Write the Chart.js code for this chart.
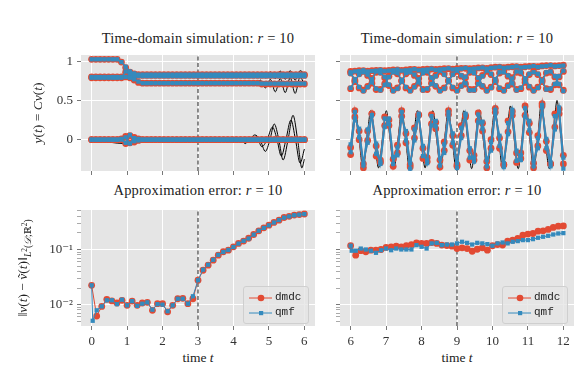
<!DOCTYPE html>
<html>
<head>
<meta charset="utf-8">
<script src="https://cdn.jsdelivr.net/npm/chart.js@4.4.1/dist/chart.umd.min.js"></script>
<style>
  body { margin: 0; background: #fff; }
  #fig { position: relative; width: 587px; height: 370px; overflow: hidden;
         font-family: "Liberation Serif", "DejaVu Serif", serif; color: #222; }
  canvas { position: absolute; }
  .txt { position: absolute; transform: translate(-50%, -50%); white-space: nowrap; line-height: 1; }
  .title { font-size: 14.5px; letter-spacing: 0.2px; }
  .lab { font-size: 13.5px; }
  .rot { transform: translate(-50%, -50%) rotate(-90deg); }
  .legend { position: absolute; width: 64px; height: 36px; border: 1px solid #cfcfcf; border-radius: 3px;
            background: rgba(229,229,229,0.8); font-family: "Liberation Mono", "DejaVu Sans Mono", monospace;
            font-size: 11px; color: #222; }
  .legend span { position: absolute; left: 31px; line-height: 1; }
  .legend svg { position: absolute; left: 0; top: 0; }
  sub { font-size: 9.5px; }
  sup { font-size: 7.5px; }
</style>
</head>
<body>
<div id="fig">
  <canvas id="tl" width="280" height="130" style="left:40px;top:50px"></canvas>
  <canvas id="tr" width="259" height="130" style="left:320px;top:50px"></canvas>
  <canvas id="bl" width="280" height="145" style="left:40px;top:205px"></canvas>
  <canvas id="br" width="259" height="145" style="left:320px;top:205px"></canvas>

  <div class="txt title" style="left:198px;top:38px">Time-domain simulation: <i>r</i> = 10</div>
  <div class="txt title" style="left:457px;top:38px">Time-domain simulation: <i>r</i> = 10</div>
  <div class="txt title" style="left:198px;top:190px">Approximation error: <i>r</i> = 10</div>
  <div class="txt title" style="left:457px;top:190px">Approximation error: <i>r</i> = 10</div>
  <div class="txt lab" style="left:198px;top:358px">time <i>t</i></div>
  <div class="txt lab" style="left:457px;top:358px">time <i>t</i></div>
  <div class="txt lab rot" style="left:38px;top:113px"><i>y</i>(<i>t</i>) = <i>Cv</i>(<i>t</i>)</div>
  <div class="txt lab rot" style="left:25px;top:268px">‖<i>v</i>(<i>t</i>) − <i>ṽ</i>(<i>t</i>)‖<sub><i>L</i><sup>2</sup>(<i>𝒟</i>;ℝ<sup>2</sup>)</sub></div>

  <div class="legend" style="left:243px;top:286px">
    <svg width="30" height="36">
      <line x1="5" y1="11" x2="28" y2="11" stroke="#E24A33" stroke-width="1"/>
      <circle cx="17" cy="11" r="3.3" fill="#E24A33"/>
      <line x1="5" y1="26" x2="28" y2="26" stroke="#348ABD" stroke-width="1"/>
      <rect x="15" y="24" width="4.2" height="4.2" fill="#348ABD"/>
    </svg>
    <span style="top:5px">dmdc</span>
    <span style="top:20px">qmf</span>
  </div>
  <div class="legend" style="left:502px;top:286px">
    <svg width="30" height="36">
      <line x1="5" y1="11" x2="28" y2="11" stroke="#E24A33" stroke-width="1"/>
      <circle cx="17" cy="11" r="3.3" fill="#E24A33"/>
      <line x1="5" y1="26" x2="28" y2="26" stroke="#348ABD" stroke-width="1"/>
      <rect x="15" y="24" width="4.2" height="4.2" fill="#348ABD"/>
    </svg>
    <span style="top:5px">dmdc</span>
    <span style="top:20px">qmf</span>
  </div>
</div>

<script>
// ---- time grids (evenly spaced sample instants) ----
function grid(start, step, n) {
  return Array.from({ length: n }, (_, i) => +(start + i * step).toFixed(4));
}
const simTimeLeft = grid(0, 0.12, 51);
const simTimeRight = grid(6, 0.12, 51);
const errTimeLeft = grid(0, 1 / 7, 43);
const errTimeRight = grid(6, 1 / 7, 43);
const qmfErrTimeLeft = [0, 0.03].concat(errTimeLeft.slice(1));
const qmfErrTimeRight = [6, 6.03].concat(errTimeRight.slice(1));
const quarterTimeRight = grid(6.0206, 0.10943, 55);

const xTicksLeft = [0, 1, 2, 3, 4, 5, 6];
const xTicksRight = [6, 7, 8, 9, 10, 11, 12];
const yTicksSim = [0, 0.5, 1];
const yTicksErr = [0.005, 0.006, 0.007, 0.008, 0.009, 0.01, 0.02, 0.03, 0.04, 0.05, 0.06, 0.07, 0.08, 0.09,
                   0.1, 0.2, 0.3, 0.4, 0.5];
const yTickLabelsErr = { 0.01: '10⁻²', 0.1: '10⁻¹' };
const trainEndLeft = 3;
const trainEndRight = 9;

// ---- top-left: outputs, t in [0, 6] ----
const dmdcOutA = [1.025, 1.025, 1.025, 1.025, 1.025, 1.025, 1.025, 0.99, 0.92, 0.86, 0.84,
  0.83, 0.83, 0.83, 0.83, 0.83, 0.83, 0.83, 0.83, 0.83, 0.83,
  0.83, 0.83, 0.83, 0.83, 0.83, 0.83, 0.83, 0.83, 0.83, 0.83,
  0.83, 0.83, 0.83, 0.83, 0.83, 0.83, 0.83, 0.83, 0.83, 0.83,
  0.83, 0.83, 0.83, 0.83, 0.83, 0.83, 0.83, 0.83, 0.83, 0.83];
const qmfOutA = [1.025, 1.025, 1.025, 1.025, 1.025, 1.025, 1.025, 0.99, 0.93, 0.87, 0.845,
  0.83, 0.83, 0.83, 0.83, 0.83, 0.83, 0.83, 0.83, 0.83, 0.83,
  0.83, 0.83, 0.83, 0.83, 0.83, 0.83, 0.83, 0.83, 0.83, 0.83,
  0.83, 0.83, 0.83, 0.83, 0.83, 0.83, 0.83, 0.83, 0.83, 0.83,
  0.83, 0.83, 0.83, 0.83, 0.83, 0.83, 0.83, 0.83, 0.83, 0.83];
const dmdcOutB = [0.80, 0.80, 0.80, 0.80, 0.80, 0.80, 0.80, 0.80, 0.80, 0.79, 0.76, 0.73,
  0.72, 0.72, 0.72, 0.72, 0.72, 0.72, 0.72, 0.72, 0.72, 0.72, 0.72, 0.72, 0.72, 0.72,
  0.72, 0.72, 0.72, 0.72, 0.72, 0.72, 0.72, 0.72, 0.72, 0.72, 0.72, 0.72, 0.72, 0.72,
  0.71, 0.71, 0.71, 0.71, 0.71, 0.71, 0.71, 0.71, 0.71, 0.71, 0.71];
const qmfOutB = [0.80, 0.80, 0.80, 0.80, 0.80, 0.80, 0.80, 0.80, 0.80, 0.79, 0.77, 0.74,
  0.72, 0.72, 0.72, 0.72, 0.72, 0.72, 0.72, 0.72, 0.72, 0.72, 0.72, 0.72, 0.72, 0.72,
  0.72, 0.72, 0.72, 0.72, 0.72, 0.72, 0.72, 0.72, 0.72, 0.72, 0.72, 0.72, 0.72, 0.72,
  0.715, 0.715, 0.715, 0.715, 0.715, 0.715, 0.715, 0.715, 0.715, 0.715, 0.715];
const dmdcOutC = [0.79, 0.79, 0.79, 0.79, 0.79, 0.79, 0.79, 0.79, 0.86, 0.84,
  0.82, 0.82, 0.82, 0.82, 0.82, 0.82, 0.82, 0.82, 0.82, 0.82, 0.82,
  0.82, 0.82, 0.82, 0.82, 0.82, 0.82, 0.82, 0.82, 0.82, 0.82,
  0.82, 0.82, 0.82, 0.82, 0.82, 0.82, 0.82, 0.82, 0.82, 0.82,
  0.82, 0.82, 0.82, 0.82, 0.82, 0.82, 0.82, 0.82, 0.82, 0.82];
const qmfOutC = [0.79, 0.79, 0.79, 0.79, 0.79, 0.79, 0.79, 0.79, 0.87, 0.84,
  0.81, 0.81, 0.81, 0.81, 0.81, 0.81, 0.81, 0.81, 0.81, 0.81, 0.81,
  0.81, 0.81, 0.81, 0.81, 0.81, 0.81, 0.81, 0.81, 0.81, 0.81,
  0.81, 0.81, 0.81, 0.81, 0.81, 0.81, 0.81, 0.81, 0.81, 0.81,
  0.81, 0.81, 0.81, 0.81, 0.81, 0.81, 0.81, 0.81, 0.81, 0.81];
const dmdcOutD = [0, 0, 0, 0, 0, 0, 0, 0.01, 0.04, -0.04, 0.03, -0.01,
  0, 0, 0, 0, 0, 0, 0, 0, 0, 0, 0, 0, 0, 0, 0, 0, 0, 0, 0, 0, 0, 0, 0, 0, 0, 0, 0, 0,
  0, 0, 0, 0, 0, 0, 0, 0, 0, 0, 0];
const qmfOutD = [0, 0, 0, 0, 0, 0, 0, 0.01, 0.03, -0.05, 0.02, -0.01,
  0, 0, 0, 0, 0, 0, 0, 0, 0, 0, 0, 0, 0, 0, 0, 0, 0, 0, 0, 0, 0, 0, 0, 0, 0, 0, 0, 0,
  0, 0, 0, 0, 0, 0, 0, 0, 0, 0, 0];
const dmdcOutE = [0, 0, 0, 0, 0, 0, 0, 0, -0.05, 0.05, -0.03, 0.01,
  0, 0, 0, 0, 0, 0, 0, 0, 0, 0, 0, 0, 0, 0, 0, 0, 0, 0, 0, 0, 0, 0, 0, 0, 0, 0, 0, 0,
  0, 0, 0, 0, 0, 0, 0, 0, 0, 0, 0];
const qmfOutE = [0, 0, 0, 0, 0, 0, 0, 0, -0.04, 0.06, -0.02, 0.01,
  0, 0, 0, 0, 0, 0, 0, 0, 0, 0, 0, 0, 0, 0, 0, 0, 0, 0, 0, 0, 0, 0, 0, 0, 0, 0, 0, 0,
  0, 0, 0, 0, 0, 0, 0, 0, 0, 0, 0];

// reference (true) outputs, left window
const truthTimeA = [0, 0.72, 0.84, 0.96, 1.08, 1.2, 1.32, 4.2, 4.34, 4.48, 4.62, 4.76, 4.9, 5.04, 5.18, 5.32, 5.46, 5.6, 5.74, 5.88, 6.0];
const truthA = [1.025, 1.025, 0.99, 0.92, 0.86, 0.84, 0.83, 0.83, 0.82, 0.845, 0.80, 0.855, 0.79, 0.865, 0.78, 0.875, 0.77, 0.88, 0.76, 0.88, 0.84];
const truthTimeB = [0, 0.96, 1.08, 1.2, 1.32, 1.44, 4.2, 4.34, 4.48, 4.62, 4.76, 4.9, 5.04, 5.18, 5.32, 5.46, 5.6, 5.74, 5.88, 6.0];
const truthB = [0.80, 0.80, 0.79, 0.76, 0.73, 0.72, 0.72, 0.71, 0.74, 0.69, 0.76, 0.66, 0.77, 0.61, 0.78, 0.60, 0.79, 0.59, 0.80, 0.70];
const truthTimeD = [0, 0.84, 0.96, 1.08, 1.2, 1.32, 4.0, 4.2, 4.33, 4.47, 4.6, 4.75, 4.9, 5.03, 5.15, 5.28, 5.4, 5.54, 5.68, 5.81, 5.93, 6.0];
const truthD = [0, 0.01, 0.04, -0.04, 0.03, 0, 0, 0.02, -0.05, 0.01, 0.06, 0.0, -0.15, 0.0, 0.20, 0.0, -0.26, 0.0, 0.31, 0.0, -0.36, -0.25];
const truthTimeE = [0, 0.96, 1.08, 1.2, 1.32, 4.0, 4.25, 4.38, 4.52, 4.65, 4.8, 4.95, 5.1, 5.22, 5.35, 5.48, 5.62, 5.75, 5.88, 6.0];
const truthE = [0, -0.05, 0.05, -0.03, 0, 0, -0.02, 0.03, -0.02, 0.04, -0.09, 0.0, 0.16, 0.02, -0.21, 0.0, 0.25, 0.0, -0.30, -0.12];

// ---- top-right: outputs, t in [6, 12] ----
const dmdcOutU1 = [0.87, 0.875, 0.88, 0.88, 0.875, 0.88, 0.885, 0.885, 0.88, 0.885,
  0.89, 0.89, 0.885, 0.89, 0.895, 0.895, 0.89, 0.895, 0.90, 0.90,
  0.895, 0.90, 0.905, 0.905, 0.90, 0.905, 0.91, 0.91, 0.905, 0.91,
  0.915, 0.915, 0.91, 0.92, 0.925, 0.925, 0.92, 0.925, 0.93, 0.93,
  0.925, 0.93, 0.935, 0.935, 0.93, 0.94, 0.945, 0.945, 0.94, 0.945, 0.95];
const qmfOutU1 = [0.86, 0.87, 0.875, 0.885, 0.87, 0.875, 0.88, 0.89, 0.875, 0.88,
  0.885, 0.895, 0.88, 0.885, 0.89, 0.90, 0.885, 0.89, 0.895, 0.905,
  0.89, 0.895, 0.90, 0.91, 0.895, 0.90, 0.905, 0.915, 0.90, 0.905,
  0.91, 0.92, 0.905, 0.915, 0.92, 0.93, 0.915, 0.92, 0.925, 0.935,
  0.92, 0.925, 0.93, 0.94, 0.925, 0.935, 0.94, 0.95, 0.935, 0.94, 0.945];
const dmdcOutU2 = [0.65, 0.74, 0.84, 0.87, 0.82, 0.72, 0.64, 0.64, 0.71, 0.81,
  0.87, 0.84, 0.75, 0.66, 0.63, 0.68, 0.78, 0.86, 0.86, 0.78,
  0.68, 0.63, 0.66, 0.75, 0.84, 0.87, 0.81, 0.71, 0.64, 0.64,
  0.72, 0.82, 0.87, 0.83, 0.74, 0.65, 0.63, 0.69, 0.79, 0.86,
  0.85, 0.77, 0.67, 0.63, 0.67, 0.76, 0.85, 0.86, 0.80, 0.70, 0.63];
const qmfOutU2 = [0.66, 0.75, 0.83, 0.86, 0.83, 0.73, 0.65, 0.63, 0.70, 0.80,
  0.86, 0.85, 0.76, 0.67, 0.62, 0.67, 0.77, 0.85, 0.87, 0.79,
  0.69, 0.62, 0.65, 0.74, 0.83, 0.88, 0.82, 0.72, 0.63, 0.63,
  0.71, 0.81, 0.88, 0.84, 0.75, 0.66, 0.62, 0.68, 0.78, 0.87,
  0.86, 0.78, 0.68, 0.62, 0.66, 0.75, 0.86, 0.87, 0.81, 0.71, 0.62];
const dmdcOutU3 = [0.85, 0.76, 0.66, 0.63, 0.68, 0.78, 0.86, 0.86, 0.79, 0.69,
  0.63, 0.66, 0.75, 0.84, 0.87, 0.82, 0.72, 0.64, 0.64, 0.72,
  0.82, 0.87, 0.84, 0.75, 0.66, 0.63, 0.69, 0.79, 0.86, 0.86,
  0.78, 0.68, 0.63, 0.67, 0.76, 0.85, 0.87, 0.81, 0.71, 0.64,
  0.65, 0.73, 0.83, 0.87, 0.83, 0.74, 0.65, 0.64, 0.70, 0.80, 0.87];
const qmfOutU3 = [0.84, 0.77, 0.67, 0.62, 0.67, 0.77, 0.87, 0.85, 0.80, 0.70,
  0.62, 0.65, 0.74, 0.85, 0.86, 0.83, 0.73, 0.63, 0.65, 0.71,
  0.81, 0.88, 0.83, 0.76, 0.67, 0.62, 0.68, 0.80, 0.87, 0.85,
  0.79, 0.69, 0.62, 0.66, 0.77, 0.86, 0.86, 0.82, 0.72, 0.63,
  0.66, 0.74, 0.84, 0.86, 0.84, 0.75, 0.64, 0.65, 0.71, 0.81, 0.88];
const dmdcOutL1 = [-0.10, 0.37, 0.00, -0.36, 0.11, 0.33, -0.21, -0.26, 0.29, 0.18,
  -0.34, -0.07, 0.37, -0.04, -0.35, 0.15, 0.31, -0.24, -0.23, 0.32,
  0.14, -0.35, -0.03, 0.37, -0.07, -0.34, 0.18, 0.29, -0.26, -0.20,
  0.34, 0.11, -0.36, 0.00, 0.40, -0.11, -0.32, 0.24, 0.31, -0.29,
  -0.17, 0.43, 0.09, -0.36, 0.05, 0.46, -0.14, -0.31, 0.33, 0.33, -0.31];
const qmfOutL1 = [-0.06, 0.35, 0.03, -0.33, 0.13, 0.31, -0.18, -0.28, 0.27, 0.20,
  -0.31, -0.10, 0.35, -0.01, -0.37, 0.13, 0.33, -0.21, -0.26, 0.30,
  0.17, -0.33, -0.06, 0.35, -0.04, -0.36, 0.15, 0.31, -0.23, -0.23,
  0.32, 0.14, -0.34, -0.03, 0.38, -0.08, -0.35, 0.21, 0.34, -0.27,
  -0.20, 0.40, 0.12, -0.34, 0.02, 0.44, -0.11, -0.34, 0.30, 0.36, -0.37];
const dmdcOutL2 = [-0.19, 0.29, 0.11, -0.31, -0.01, 0.33, -0.08, -0.29, 0.18, 0.25,
  -0.25, -0.17, 0.30, 0.08, -0.32, 0.02, 0.32, -0.11, -0.28, 0.20,
  0.22, -0.26, -0.14, 0.32, 0.05, -0.32, 0.05, 0.31, -0.14, -0.26,
  0.24, 0.21, -0.28, -0.11, 0.35, 0.02, -0.32, 0.10, 0.36, -0.17,
  -0.24, 0.31, 0.21, -0.30, -0.08, 0.43, -0.02, -0.31, 0.16, 0.39, -0.20];
const qmfOutL2 = [-0.16, 0.27, 0.14, -0.29, -0.04, 0.31, -0.05, -0.31, 0.16, 0.27,
  -0.22, -0.20, 0.28, 0.11, -0.30, -0.01, 0.30, -0.08, -0.30, 0.18,
  0.24, -0.24, -0.17, 0.30, 0.08, -0.30, 0.02, 0.33, -0.11, -0.28,
  0.22, 0.23, -0.26, -0.14, 0.33, 0.05, -0.30, 0.07, 0.38, -0.14,
  -0.26, 0.29, 0.24, -0.28, -0.11, 0.41, 0.01, -0.29, 0.13, 0.41, -0.23];

// reference (true) outputs, right window, at quarter-period instants
const truthL1 = [-0.05,
  0.37, 0.00, -0.37, 0.00, 0.37, 0.00, -0.36, 0.00, 0.37, 0.00, -0.37, 0.00,
  0.37, 0.00, -0.37, 0.00, 0.37, 0.00, -0.36, 0.00, 0.37, 0.00, -0.37, 0.00,
  0.37, 0.00, -0.37, 0.00, 0.37, 0.00, -0.37, 0.00, 0.38, 0.00, -0.37, 0.00,
  0.40, 0.00, -0.37, 0.00, 0.43, 0.00, -0.37, 0.00, 0.46, 0.00, -0.37, 0.00,
  0.48, 0.00, -0.37, 0.00, 0.50, 0.02];
const truthU2 = [0.665,
  0.75, 0.835, 0.87, 0.835, 0.75, 0.665, 0.63, 0.665,
  0.75, 0.835, 0.87, 0.835, 0.75, 0.665, 0.63, 0.665,
  0.75, 0.835, 0.87, 0.835, 0.75, 0.665, 0.63, 0.665,
  0.75, 0.835, 0.87, 0.835, 0.75, 0.665, 0.63, 0.665,
  0.75, 0.835, 0.87, 0.835, 0.75, 0.665, 0.63, 0.665,
  0.75, 0.835, 0.87, 0.835, 0.75, 0.665, 0.63, 0.665,
  0.75, 0.835, 0.87, 0.835, 0.75, 0.665];
const truthU3 = [0.835,
  0.75, 0.665, 0.63, 0.665, 0.75, 0.835, 0.87, 0.835,
  0.75, 0.665, 0.63, 0.665, 0.75, 0.835, 0.87, 0.835,
  0.75, 0.665, 0.63, 0.665, 0.75, 0.835, 0.87, 0.835,
  0.75, 0.665, 0.63, 0.665, 0.75, 0.835, 0.87, 0.835,
  0.75, 0.665, 0.63, 0.665, 0.75, 0.835, 0.87, 0.835,
  0.75, 0.665, 0.63, 0.665, 0.75, 0.835, 0.87, 0.835,
  0.75, 0.665, 0.63, 0.665, 0.75, 0.835];

// ---- approximation errors ----
const dmdcErrLeft = [0.0224, 0.0062, 0.0093, 0.0125, 0.0117, 0.0107, 0.0120, 0.0097, 0.0116, 0.0097,
  0.0107, 0.0110, 0.0079, 0.0104, 0.0104, 0.0074, 0.0097, 0.0128, 0.0130, 0.0104, 0.0128,
  0.0277, 0.042, 0.052, 0.064, 0.079, 0.091, 0.097, 0.112, 0.129, 0.142, 0.160,
  0.187, 0.218, 0.247, 0.276, 0.310, 0.340, 0.380, 0.400, 0.420, 0.430, 0.440];
const qmfErrLeft = [0.0224, 0.0051, 0.0079, 0.0093, 0.0120, 0.0120, 0.0102, 0.0123, 0.0097, 0.0116, 0.0095,
  0.0104, 0.0110, 0.0081, 0.0102, 0.0100, 0.0076, 0.0097, 0.0128, 0.0128, 0.0104, 0.0142,
  0.0277, 0.043, 0.053, 0.065, 0.080, 0.090, 0.098, 0.111, 0.128, 0.143, 0.158,
  0.186, 0.219, 0.246, 0.274, 0.308, 0.342, 0.378, 0.398, 0.418, 0.428, 0.438];
const dmdcErrRight = [0.117, 0.079, 0.095, 0.091, 0.097, 0.097, 0.100, 0.109, 0.112, 0.115,
  0.112, 0.117, 0.123, 0.132, 0.129, 0.129, 0.134, 0.129, 0.120, 0.118, 0.115,
  0.104, 0.107, 0.104, 0.093, 0.101, 0.107, 0.097, 0.117, 0.123, 0.120,
  0.142, 0.148, 0.159, 0.182, 0.190, 0.195, 0.215, 0.218, 0.231, 0.251, 0.265, 0.268];
const qmfErrRight = [0.117, 0.095, 0.095, 0.104, 0.100, 0.095, 0.087, 0.097, 0.104, 0.097, 0.104,
  0.100, 0.100, 0.100, 0.120, 0.112, 0.104, 0.129, 0.132, 0.120, 0.123, 0.123,
  0.129, 0.138, 0.132, 0.123, 0.132, 0.129, 0.125, 0.117, 0.129, 0.134,
  0.129, 0.138, 0.142, 0.148, 0.148, 0.154, 0.163, 0.170, 0.177, 0.187, 0.195, 0.198];

// ---- styling / chart helpers ----
const RED = '#E24A33';
const BLUE = '#348ABD';
const tickFont = { family: '"Liberation Serif", "DejaVu Serif", serif', size: 13 };

const bgPlugin = {
  id: 'axesBg',
  beforeDraw(chart) {
    const { ctx, chartArea: a } = chart;
    ctx.save();
    ctx.fillStyle = '#E5E5E5';
    ctx.fillRect(a.left, a.top, a.width, a.height);
    ctx.restore();
  }
};

function pts(times, values) {
  return values.map((v, i) => ({ x: times[i], y: v }));
}

function marks(times, values, method, lw) {
  const red = method === 'dmdc';
  return {
    data: pts(times, values),
    borderColor: red ? RED : BLUE,
    backgroundColor: red ? RED : BLUE,
    pointStyle: red ? 'circle' : 'rect',
    pointRadius: red ? 3.4 : 3.0,
    pointBorderWidth: 0,
    borderWidth: lw,
    order: red ? 2 : 1
  };
}

function truth(times, values) {
  return {
    data: pts(times, values),
    borderColor: '#000',
    borderWidth: 1,
    pointRadius: 0,
    cubicInterpolationMode: 'monotone',
    order: 4
  };
}

function guide(x, y0, y1) {
  return {
    data: [{ x, y: y0 }, { x, y: y1 }],
    borderColor: '#222',
    borderWidth: 1,
    borderDash: [4, 2.5],
    pointRadius: 0,
    order: 3
  };
}

function xAxis(min, max, ticks, labels, height) {
  return {
    type: 'linear', min, max,
    afterBuildTicks: s => { s.ticks = ticks.map(v => ({ value: v })); },
    afterFit: s => { s.height = height; s.paddingLeft = 0; s.paddingRight = 0; },
    grid: { color: '#fff', lineWidth: 1, tickColor: '#555', tickLength: 4, tickWidth: 0.8 },
    border: { display: false },
    ticks: { display: labels, font: tickFont, color: '#333', padding: 4, maxRotation: 0, autoSkip: false,
             callback: v => String(v) }
  };
}

function ySim(labels, width) {
  return {
    type: 'linear', min: -0.4, max: 1.08,
    afterBuildTicks: s => { s.ticks = yTicksSim.map(v => ({ value: v })); },
    afterFit: s => { s.width = width; s.paddingTop = 0; s.paddingBottom = 0; },
    grid: { color: '#fff', lineWidth: 1, tickColor: '#555', tickLength: 4, tickWidth: 0.8 },
    border: { display: false },
    ticks: { display: labels, font: tickFont, color: '#333', padding: 4, autoSkip: false,
             callback: v => String(v) }
  };
}

function yErr(labels, width) {
  return {
    type: 'logarithmic', min: 0.0041, max: 0.52,
    afterBuildTicks: s => {
      s.ticks = yTicksErr.map(v => ({ value: v, major: yTickLabelsErr[v] !== undefined }));
    },
    afterFit: s => { s.width = width; s.paddingTop = 0; s.paddingBottom = 0; },
    grid: {
      color: c => (c.tick && c.tick.major ? '#fff' : 'rgba(0,0,0,0)'),
      lineWidth: 1,
      tickColor: '#555',
      tickLength: 4,
      tickWidth: c => (c.tick && c.tick.major ? 0.8 : 0.5)
    },
    border: { display: false },
    ticks: {
      display: labels, font: tickFont, color: '#333', padding: 4, autoSkip: false,
      callback: v => yTickLabelsErr[v] || ''
    }
  };
}

function makeChart(id, datasets, x, y) {
  return new Chart(document.getElementById(id), {
    type: 'line',
    data: { datasets },
    options: {
      responsive: false,
      animation: false,
      devicePixelRatio: 1,
      events: [],
      layout: { padding: { left: 0, top: 5, right: 5, bottom: 0 } },
      plugins: { legend: { display: false }, tooltip: { enabled: false } },
      scales: { x, y }
    },
    plugins: [bgPlugin]
  });
}

// ---- top-left ----
makeChart('tl', [
  truth(truthTimeA, truthA),
  truth(truthTimeB, truthB),
  truth(truthTimeD, truthD),
  truth(truthTimeE, truthE),
  guide(trainEndLeft, -0.4, 1.08),
  marks(simTimeLeft, dmdcOutA, 'dmdc', 1.5),
  marks(simTimeLeft, dmdcOutB, 'dmdc', 1.5),
  marks(simTimeLeft, dmdcOutC, 'dmdc', 1.5),
  marks(simTimeLeft, dmdcOutD, 'dmdc', 1.5),
  marks(simTimeLeft, dmdcOutE, 'dmdc', 1.5),
  marks(simTimeLeft, qmfOutA, 'qmf', 1.5),
  marks(simTimeLeft, qmfOutB, 'qmf', 1.5),
  marks(simTimeLeft, qmfOutC, 'qmf', 1.5),
  marks(simTimeLeft, qmfOutD, 'qmf', 1.5),
  marks(simTimeLeft, qmfOutE, 'qmf', 1.5)
], xAxis(-0.3, 6.3, xTicksLeft, false, 9), ySim(true, 41));

// ---- top-right ----
makeChart('tr', [
  truth(quarterTimeRight, truthL1),
  truth(quarterTimeRight, truthU2),
  truth(quarterTimeRight, truthU3),
  guide(trainEndRight, -0.4, 1.08),
  marks(simTimeRight, dmdcOutU1, 'dmdc', 1.5),
  marks(simTimeRight, dmdcOutU2, 'dmdc', 1.5),
  marks(simTimeRight, dmdcOutU3, 'dmdc', 1.5),
  marks(simTimeRight, dmdcOutL1, 'dmdc', 1.5),
  marks(simTimeRight, dmdcOutL2, 'dmdc', 1.5),
  marks(simTimeRight, qmfOutU1, 'qmf', 1.5),
  marks(simTimeRight, qmfOutU2, 'qmf', 1.5),
  marks(simTimeRight, qmfOutU3, 'qmf', 1.5),
  marks(simTimeRight, qmfOutL1, 'qmf', 1.5),
  marks(simTimeRight, qmfOutL2, 'qmf', 1.5)
], xAxis(5.7, 12.3, xTicksRight, false, 9), ySim(false, 20));

// ---- bottom-left ----
makeChart('bl', [
  guide(trainEndLeft, 0.0041, 0.52),
  marks(errTimeLeft, dmdcErrLeft, 'dmdc', 1),
  marks(qmfErrTimeLeft, qmfErrLeft, 'qmf', 1)
], xAxis(-0.3, 6.3, xTicksLeft, true, 24), yErr(true, 41));

// ---- bottom-right ----
makeChart('br', [
  guide(trainEndRight, 0.0041, 0.52),
  marks(errTimeRight, dmdcErrRight, 'dmdc', 1),
  marks(qmfErrTimeRight, qmfErrRight, 'qmf', 1)
], xAxis(5.7, 12.3, xTicksRight, true, 24), yErr(false, 20));
</script>
</body>
</html>
